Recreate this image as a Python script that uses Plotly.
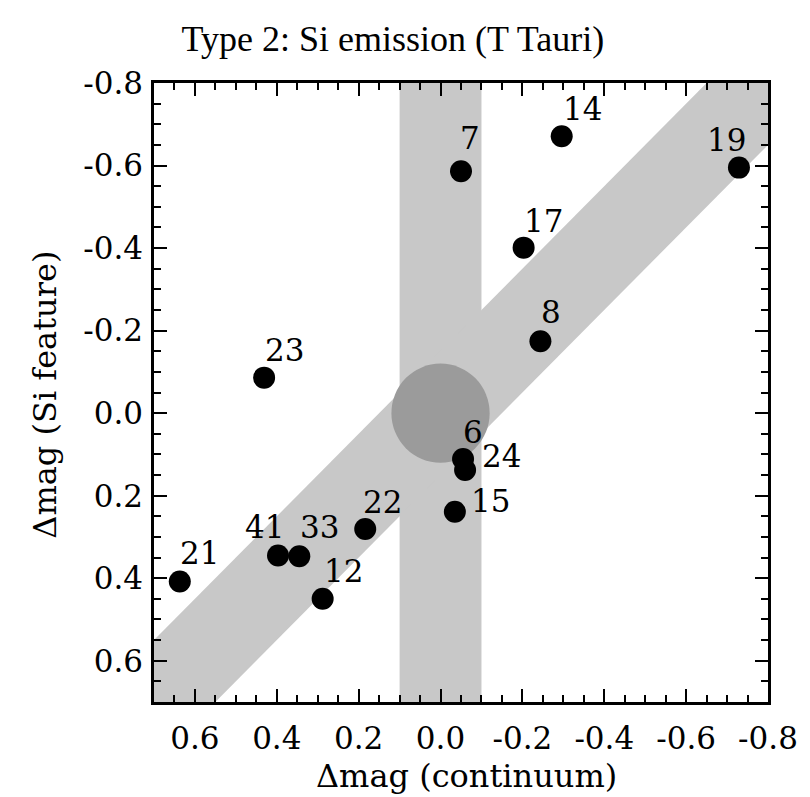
import plotly.graph_objects as go

# ---- data ----
star_ids = ["7", "14", "19", "17", "8", "23", "6", "24", "15", "22", "41", "33", "12", "21"]
dmag_continuum = [-0.050, -0.296, -0.729, -0.203, -0.244, 0.431, -0.055, -0.060,
                  -0.035, 0.184, 0.397, 0.345, 0.288, 0.637]
dmag_si_feature = [-0.586, -0.671, -0.595, -0.401, -0.174, -0.086, 0.111, 0.138,
                   0.239, 0.281, 0.345, 0.347, 0.450, 0.408]

x_tick_vals = [0.6, 0.4, 0.2, 0.0, -0.2, -0.4, -0.6, -0.8]
x_tick_text = ["0.6", "0.4", "0.2", "0.0", "-0.2", "-0.4", "-0.6", "-0.8"]
y_tick_vals = [-0.8, -0.6, -0.4, -0.2, 0.0, 0.2, 0.4, 0.6]
y_tick_text = ["-0.8", "-0.6", "-0.4", "-0.2", "0.0", "0.2", "0.4", "0.6"]

# ---- styling ----
x_range = [0.7, -0.8]
y_range = [0.7, -0.8]
vband_half = 0.1
diag_half = 0.15
circle_r = 0.12
band_color = "#c8c8c8"
circle_color = "#9b9b9b"
# label offsets in pixels (dx right, dy up)
label_offsets = {
    "7": (9, 33), "14": (21, 27), "19": (-12, 28), "17": (20, 27), "8": (11, 29),
    "23": (20, 28), "6": (10, 27), "24": (36, 14), "15": (36, 11), "22": (17, 27),
    "41": (-14, 29), "33": (20, 29), "12": (21, 28), "21": (20, 29),
}
serif = "DejaVu Serif"

fig = go.Figure()

fig.add_trace(go.Scatter(
    x=dmag_continuum, y=dmag_si_feature, mode="markers",
    marker=dict(size=22, color="black", line=dict(width=0)),
    hoverinfo="skip", showlegend=False,
))

shapes = [
    dict(type="rect", xref="x", yref="paper", x0=-vband_half, x1=vband_half, y0=0, y1=1,
         fillcolor=band_color, line=dict(width=0), layer="below"),
    dict(type="path", xref="x", yref="y",
         path=f"M -1.2,{-1.2 - diag_half} L 1.2,{1.2 - diag_half} L 1.2,{1.2 + diag_half} L -1.2,{-1.2 + diag_half} Z",
         fillcolor=band_color, line=dict(width=0), layer="below"),
    dict(type="circle", xref="x", yref="y", x0=-circle_r, x1=circle_r, y0=-circle_r, y1=circle_r,
         fillcolor=circle_color, line=dict(width=0), layer="below"),
]

annotations = []
for sid, xv, yv in zip(star_ids, dmag_continuum, dmag_si_feature):
    dx, dy = label_offsets[sid]
    annotations.append(dict(x=xv, y=yv, xref="x", yref="y", text=sid, showarrow=False,
                            xshift=dx, yshift=dy, font=dict(family=serif, size=31, color="black")))

annotations.append(dict(text="Δmag (continuum)", xref="paper", yref="paper", x=0.509, y=-0.12,
                        xanchor="center", yanchor="middle", showarrow=False,
                        font=dict(family=serif, size=32, color="black")))
annotations.append(dict(text="Δmag (Si feature)", xref="paper", yref="paper", x=-0.178, y=0.496,
                        xanchor="center", yanchor="middle", showarrow=False, textangle=-90,
                        font=dict(family=serif, size=32, color="black")))

axis_common = dict(
    showgrid=False, zeroline=False, showline=True, linecolor="black", linewidth=2.5,
    mirror="ticks", ticks="inside", ticklen=13, tickwidth=2, tickcolor="black",
    tickfont=dict(family=serif, size=31, color="black"),
    minor=dict(ticks="inside", ticklen=7, tickwidth=2, tickcolor="black", dtick=0.05, showgrid=False),
)

fig.update_layout(
    width=810, height=797,
    margin=dict(l=154, r=33, t=83, b=95),
    paper_bgcolor="white", plot_bgcolor="white",
    title=dict(text="Type 2: Si emission (T Tauri)", x=0.485, y=0.952, xanchor="center",
               yanchor="middle", font=dict(family="Liberation Serif", size=36, color="black")),
    xaxis=dict(range=x_range, tickvals=x_tick_vals, ticktext=x_tick_text,
               ticklabelstandoff=7, **axis_common),
    yaxis=dict(range=y_range, tickvals=y_tick_vals, ticktext=y_tick_text,
               ticklabelstandoff=2, **axis_common),
    shapes=shapes,
    annotations=annotations,
    showlegend=False,
)

fig.write_html("out.html")
